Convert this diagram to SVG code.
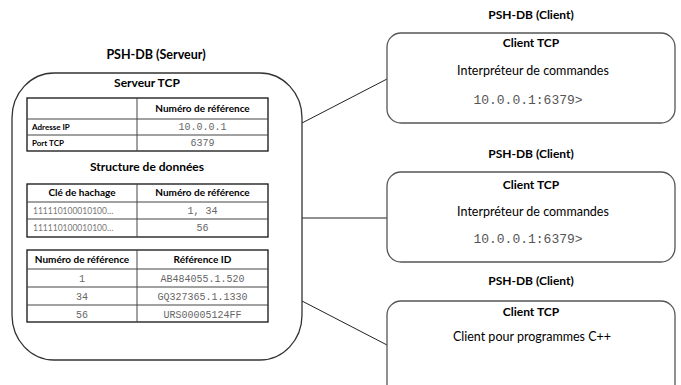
<svg xmlns="http://www.w3.org/2000/svg" width="681" height="385" viewBox="0 0 681 385">
<style>
text{font-family:Lato,"Liberation Sans",sans-serif;fill:#000;}
.c{text-anchor:middle;}
.h1{font-weight:bold;font-size:12.5px;}
.h2{font-weight:bold;font-size:12px;}
.th{font-weight:bold;font-size:10px;}
.lb{font-weight:bold;font-size:8px;}
.m{font-family:"Liberation Mono","DejaVu Sans Mono",monospace;font-size:10px;fill:#666;}
.mb{font-family:"Liberation Mono","DejaVu Sans Mono",monospace;font-size:13px;fill:#555;}
.hx{font-size:8.5px;fill:#777;}
.r{font-size:12.5px;}
.box{fill:#fff;stroke:#333;stroke-width:1.3;}
.cbox{fill:#fff;stroke:#555;stroke-width:1.3;}
.tb{fill:none;stroke:#111;stroke-width:1.3;}
.tl{stroke:#444;stroke-width:1;}
.conn{stroke:#222;stroke-width:1;fill:none;}
</style>
<g id="connectors">
<line class="conn" x1="302" y1="123" x2="387" y2="79"/>
<line class="conn" x1="302" y1="218" x2="387" y2="218"/>
<line class="conn" x1="302" y1="301" x2="387" y2="345"/>
</g>
<g id="server">
<text class="h1 c" x="156" y="59">PSH-DB (Serveur)</text>
<rect class="box" x="12" y="73" width="290" height="287" rx="42" ry="45"/>
<text class="h2 c" x="147" y="87">Serveur TCP</text>
<g id="table-tcp">
<rect class="tb" x="27" y="98" width="241" height="53"/>
<line class="tl" x1="27" y1="119" x2="268" y2="119"/>
<line class="tl" x1="27" y1="135" x2="268" y2="135"/>
<line class="tl" x1="137" y1="98" x2="137" y2="151" stroke="#111"/>
<text class="th c" x="202.5" y="112">Numéro de référence</text>
<text class="lb" x="32" y="130">Adresse IP </text>
<text class="lb" x="32" y="146">Port TCP </text>
<text class="m c" x="202.5" y="130">10.0.0.1</text>
<text class="m c" x="202.5" y="146">6379</text>
</g>
<text class="h2 c" x="147" y="171">Structure de données</text>
<g id="table-hash">
<rect class="tb" x="27" y="184" width="241" height="53"/>
<line class="tl" x1="27" y1="202" x2="268" y2="202"/>
<line class="tl" x1="27" y1="219" x2="268" y2="219"/>
<line class="tl" x1="137" y1="184" x2="137" y2="237" stroke="#111"/>
<text class="th c" x="82" y="196">Clé de hachage</text>
<text class="th c" x="202.5" y="196">Numéro de référence</text>
<text class="hx" x="33" y="214">111110100010100…</text>
<text class="hx" x="33" y="231">111110100010100…</text>
<text class="m c" x="202.5" y="214">1, 34</text>
<text class="m c" x="202.5" y="231">56</text>
</g>
<g id="table-ref">
<rect class="tb" x="27" y="250" width="241" height="72"/>
<line class="tl" x1="27" y1="269" x2="268" y2="269"/>
<line class="tl" x1="27" y1="287" x2="268" y2="287"/>
<line class="tl" x1="27" y1="305" x2="268" y2="305"/>
<line class="tl" x1="137" y1="250" x2="137" y2="322" stroke="#111"/>
<text class="th c" x="82" y="263">Numéro de référence</text>
<text class="th c" x="202.5" y="263">Référence ID</text>
<text class="m c" x="82" y="282">1</text>
<text class="m c" x="202.5" y="282">AB484055.1.520</text>
<text class="m c" x="82" y="300">34</text>
<text class="m c" x="202.5" y="300">GQ327365.1.1330</text>
<text class="m c" x="82" y="318">56</text>
<text class="m c" x="202.5" y="318">URS00005124FF</text>
</g>
</g>
<g id="client1">
<text class="h2 c" x="531" y="19">PSH-DB (Client)</text>
<rect class="cbox" x="387" y="33" width="288" height="90" rx="14"/>
<text class="h2 c" x="531" y="47">Client TCP</text>
<text class="r c" x="533" y="75">Interpréteur de commandes </text>
<text class="mb c" x="528" y="104">10.0.0.1:6379&gt;</text>
</g>
<g id="client2">
<text class="h2 c" x="531" y="158">PSH-DB (Client)</text>
<rect class="cbox" x="387" y="172" width="288" height="90" rx="14"/>
<text class="h2 c" x="531" y="189">Client TCP</text>
<text class="r c" x="533" y="216">Interpréteur de commandes </text>
<text class="mb c" x="528" y="243">10.0.0.1:6379&gt;</text>
</g>
<g id="client3">
<text class="h2 c" x="531" y="285">PSH-DB (Client)</text>
<rect class="cbox" x="387" y="301" width="288" height="100" rx="14"/>
<text class="h2 c" x="531" y="316">Client TCP</text>
<text class="r c" x="532" y="341">Client pour programmes C++</text>
</g>
</svg>
